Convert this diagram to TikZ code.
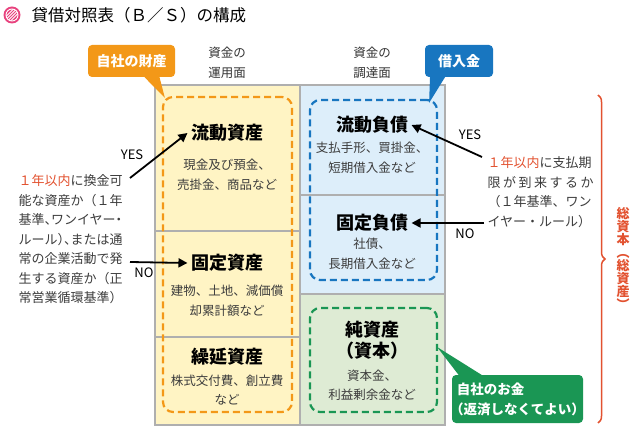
\documentclass[tikz,border=0pt]{standalone}
\usepackage{fontspec}
\setmainfont{Noto Sans CJK JP}
\usetikzlibrary{arrows.meta, decorations.pathreplacing, positioning}

\definecolor{yelbg}{RGB}{255,244,196}
\definecolor{blubg}{RGB}{221,238,250}
\definecolor{grnbg}{RGB}{222,235,212}
\definecolor{frame}{RGB}{175,175,175}
\definecolor{orgc}{RGB}{243,152,24}
\definecolor{bluc}{RGB}{24,118,192}
\definecolor{grnc}{RGB}{26,150,84}
\definecolor{redc}{RGB}{226,82,48}
\definecolor{pinkc}{RGB}{232,66,126}
\definecolor{txtg}{RGB}{60,60,60}

% half-width punctuation
\newcommand{\hw}[1]{{\addfontfeature{RawFeature=+halt}#1}}

\begin{document}
\begin{tikzpicture}[x=1pt, y=-1pt,
    head/.style={font=\bfseries\fontsize{18}{21}\selectfont, text=black, align=center},
    body/.style={font=\fontsize{12.5}{19.5}\selectfont, text=txtg, align=center},
    quest/.style={font=\fontsize{13}{19.5}\selectfont, text=txtg, align=left},
    yesno/.style={font=\fontsize{13}{15}\selectfont, text=black},
    dashbox/.style={draw=#1, line width=2.2pt, dash pattern=on 7pt off 4pt,
        rounded corners=10pt, inner sep=0pt},
    callbox/.style={fill=#1, text=white, rounded corners=4pt, inner sep=0pt,
        font=\bfseries\fontsize{14}{18}\selectfont},
    arr/.style={-{Triangle[length=9pt,width=9pt]}, line width=1.8pt, black}]

    \useasboundingbox (0,0) rectangle (640,438);

    % title
    \fill[pinkc] (12,15) circle (8.5pt);
    \begin{scope}
        \clip (12,15) circle (6pt);
        \foreach \d in {-4.5,-1.5,1.5,4.5}
            \draw[white, line width=0.9pt] (12+\d-7,15+7) -- (12+\d+7,15-7);
    \end{scope}
    \draw[white, line width=0.9pt] (12,15) circle (6pt);
    \node[anchor=west, font=\fontsize{16.5}{18}\selectfont] (title) at (28,15)
        {貸借対照表（Ｂ／Ｓ）の構成};

    % columns
    \fill[yelbg] (155,85) rectangle (300,425);
    \fill[blubg] (300,85) rectangle (445,294);
    \fill[grnbg] (300,294) rectangle (445,425);
    \draw[frame, line width=1.2pt] (155,231) -- (300,231)
        (155,337) -- (300,337)
        (300,195) -- (445,195);
    \draw[frame, line width=2.6pt] (155,85) rectangle (445,425)
        (300,85) -- (300,425)
        (300,294) -- (445,294);

    \node[body, text=black!80] (useA) at (227,63) {資金の\\運用面};
    \node[body, text=black!80] (srcA) at (372,63) {資金の\\調達面};

    % dashed groups
    \node[dashbox=orgc, minimum width=129pt, minimum height=315pt] (assets) at (227.5,254.5) {};
    \node[dashbox=bluc, minimum width=127pt, minimum height=180pt] (liab) at (373.5,190) {};
    \node[dashbox=grnc, minimum width=127pt, minimum height=104pt] (equity) at (373.5,360) {};

    % left column
    \node[head] (curA) at (227,133) {流動資産};
    \node[body] (curAt) at (227,175) {現金及び預金、\\売掛金、商品など};
    \node[head] (fixA) at (227,263) {固定資産};
    \node[body] (fixAt) at (227,301) {建物、土地、減価償\\却累計額など};
    \node[head] (defA) at (227,357) {繰延資産};
    \node[body] (defAt) at (227,390) {株式交付費、創立費\\など};

    % right column
    \node[head] (curL) at (372,125) {流動負債};
    \node[body] (curLt) at (372,158) {支払手形、買掛金、\\短期借入金など};
    \node[head] (fixL) at (372,223) {固定負債};
    \node[body] (fixLt) at (372,254) {社債、\\長期借入金など};
    \node[head] (netA) at (372,340) {純資産\\（資本）};
    \node[body] (netAt) at (372,385) {資本金、\\利益剰余金など};

    % callouts
    \node[callbox=orgc, minimum width=87pt, minimum height=32pt] (ownA) at (131.5,61) {自社の財産};
    \fill[orgc] ([xshift=13pt]ownA.south) -- ([xshift=28pt]ownA.south)
        -- ([shift={(3,2)}]assets.north west) -- cycle;
    \node[callbox=bluc, minimum width=68pt, minimum height=32pt] (debt) at (459,61) {借入金};
    \fill[bluc] ([xshift=-29pt]debt.south) -- ([xshift=-14pt]debt.south)
        -- ([shift={(-9,4)}]liab.north east) -- cycle;
    \node[callbox=grnc, minimum width=131pt, minimum height=48pt, align=left,
        font=\bfseries\fontsize{13.5}{20}\selectfont] (ownM) at (517.5,399)
        {自社のお金\\\hw{（}返済しなくてよい\hw{）}};
    \fill[grnc] ([xshift=-59pt]ownM.north) -- ([xshift=-36pt]ownM.north)
        -- ([shift={(-1,-13)}]equity.east) -- cycle;

    % questions
    \node[quest, anchor=north west] (qA) at (15,171)
        {\textcolor{redc}{１年以内}に換金可\\能な資産か（１年\\基準\hw{、}ワンイヤー\hw{・}\\ルール\hw{）、}または通\\常の企業活動で発\\生する資産か（正\\常営業循環基準\hw{）}};
    \node[quest, anchor=north west] (qL) at (484,153)
        {\textcolor{redc}{１年以内}に支払期\\\makebox[106pt][s]{限\hfill が\hfill 到\hfill 来\hfill す\hfill る\hfill か}\\（１年基準、ワン\\イヤー・ルール\hw{）}};

    \coordinate (qAyes) at (130,178);
    \coordinate (qAno) at (130,262);
    \coordinate (qLyes) at (482,157);
    \coordinate (qLno) at (484,223);

    \draw[arr] (qAyes) -- (curA.west);
    \draw[arr] (qAno) -- (fixA.west);
    \draw[arr] (qLyes) -- (curL.east);
    \draw[arr] (qLno) -- (fixL.east);

    \node[yesno] (yesA) at (132,155) {YES};
    \node[yesno] (noA) at (144,273) {NO};
    \node[yesno] (yesL) at (470,135) {YES};
    \node[yesno] (noL) at (465,234) {NO};

    % total
    \draw[redc, line width=1.5pt, decorate, decoration={brace, amplitude=7pt}]
        (598,95) -- (598,423);
    \node[font=\bfseries\fontsize{13}{13}\selectfont, text=redc, align=center,
        inner sep=0pt] (total) at (623,258) {総\\資\\本\\︵\\総\\資\\産\\︶};
\end{tikzpicture}
\end{document}
